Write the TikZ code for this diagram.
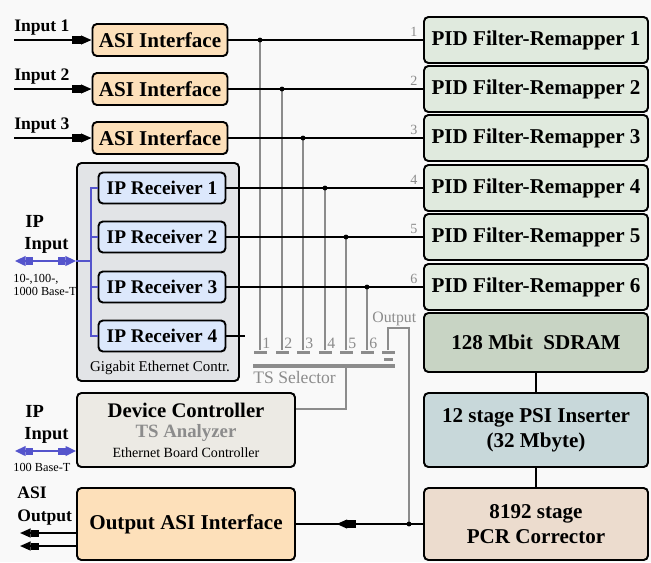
\documentclass[tikz,border=0pt]{standalone}
\usepackage{fontspec}
\setmainfont{Liberation Serif}
\usetikzlibrary{arrows.meta,decorations.markings}

\definecolor{bgfill}{RGB}{249,249,249}
\definecolor{asifill}{RGB}{253,224,186}
\definecolor{pidfill}{RGB}{224,234,222}
\definecolor{ramfill}{RGB}{200,212,196}
\definecolor{psifill}{RGB}{200,216,218}
\definecolor{pcrfill}{RGB}{236,220,206}
\definecolor{devfill}{RGB}{236,234,228}
\definecolor{gigfill}{RGB}{226,228,231}
\definecolor{rcvfill}{RGB}{220,232,252}
\definecolor{ipblue}{RGB}{84,84,204}
\definecolor{selgray}{RGB}{140,140,140}

\def\bigf{\bfseries\fontsize{12}{14.4}\selectfont}
\def\asi#1#2{\node[blk, fill=asifill, font=\bigf, minimum width=2.7cm, minimum height=0.64cm] (asi#1) at (160,#2) {ASI Interface};
  \coordinate (in#1) at (14,#2);
  \draw[bus, plug] (in#1) -- (asi#1.west);
  \node[lbl, anchor=base west] (inlbl#1) at (14,#2-9) {Input #1};}
\def\pid#1#2{\node[blk, fill=pidfill, font=\bigf, minimum width=4.48cm, minimum height=0.92cm] (pid#1) at (536,#2) {PID Filter-Remapper #1};
  \node[linenum, anchor=south east] (ln#1) at ([xshift=-3pt,yshift=2pt]pid#1.west) {#1};}
\def\rcv#1#2{\node[blk, fill=rcvfill, font=\bfseries\fontsize{11}{13}\selectfont, minimum width=2.54cm, minimum height=0.62cm] (rcv#1) at (162,#2) {IP Receiver #1};}
\def\tap#1#2#3{\coordinate (j#1) at (#2,#3);
  \node[tapbar] (t#1) at (#2,352) {};
  \draw[tsline] (j#1) -- (t#1.north);
  \node[tapnum, anchor=base west] (tn#1) at (#2+2,348) {#1};}

\begin{document}
\begin{tikzpicture}[x=0.02cm, y=-0.02cm,
    blk/.style={draw=black, line width=1.1pt, rounded corners=2.5pt, align=center, inner sep=1pt},
    bus/.style={line width=1pt},
    tsline/.style={draw=selgray, line width=1.1pt},
    ipline/.style={draw=ipblue, line width=1.1pt},
    plug/.style={-{Rectangle[length=5pt,width=4pt]Triangle[length=6pt,width=5pt]}},
    ipplug/.style={-{Rectangle[length=4pt,width=4pt]Triangle[length=6pt,width=5.5pt]}},
    lbl/.style={font=\bfseries\fontsize{10}{12}\selectfont, inner sep=0pt},
    small/.style={font=\fontsize{7}{8}\selectfont, inner sep=0pt},
    linenum/.style={font=\fontsize{8}{9}\selectfont, text=selgray, inner sep=0pt},
    tapnum/.style={font=\fontsize{9}{10}\selectfont, text=selgray, inner sep=0pt},
    tapbar/.style={fill=selgray, minimum width=0.26cm, minimum height=0.06cm, inner sep=0pt},
    ]
    \useasboundingbox (0,0) rectangle (651,562);
    \fill[bgfill] (0,0) rectangle (651,562);

    % selector taps
    \tap{1}{260}{40}
    \tap{2}{282}{89}
    \tap{3}{303}{138}
    \tap{4}{325}{188}
    \tap{5}{346}{237}
    \tap{6}{367}{287}
    \node[tapbar] (tout) at (388,352) {};
    \node[tapbar, minimum width=0.18cm] (tout2) at (388,359) {};
    \node[fill=selgray, minimum width=2.84cm, minimum height=0.08cm, inner sep=0pt] (sel) at (324,366) {};
    \node[font=\fontsize{10}{12}\selectfont, text=selgray, inner sep=0pt, anchor=base west] (sellbl) at (253,383) {TS Selector};
    \node[tapnum, anchor=base west] (outlbl) at (372,322) {Output};

    \asi{1}{40}
    \asi{2}{89}
    \asi{3}{138}
    \pid{1}{40}
    \pid{2}{89}
    \pid{3}{138}
    \pid{4}{188}
    \pid{5}{237}
    \pid{6}{287}

    \node[blk, fill=ramfill, font=\bigf, minimum width=4.48cm, minimum height=1.18cm] (ram) at (536,342.5) {128 Mbit\ \ SDRAM};
    \node[blk, fill=psifill, font=\bigf, minimum width=4.48cm, minimum height=1.48cm] (psi) at (536,430) {12 stage PSI Inserter\\(32 Mbyte)};
    \node[blk, fill=pcrfill, font=\bigf, minimum width=4.48cm, minimum height=1.44cm] (pcr) at (536,524) {8192 stage\\PCR Corrector};

    \node[blk, fill=gigfill, minimum width=3.24cm, minimum height=4.36cm] (gig) at (158,272) {};
    \node[font=\fontsize{8.5}{10}\selectfont, inner sep=0pt] (giglbl) at (160,368) {Gigabit Ethernet Contr.};
    \rcv{1}{188}
    \rcv{2}{237}
    \rcv{3}{287}
    \rcv{4}{336}

    \node[blk, fill=devfill, minimum width=4.36cm, minimum height=1.48cm, text depth=0pt] (dev) at (186,430)
        {{\bfseries\fontsize{11.8}{13}\selectfont Device Controller}\\[-0.6pt]
         {\bfseries\fontsize{10.7}{12}\selectfont\color{selgray} TS Analyzer}\\[-0.6pt]
         {\fontsize{8}{9}\selectfont Ethernet Board Controller}};
    \node[blk, fill=asifill, font=\bigf, minimum width=4.36cm, minimum height=1.44cm] (oasi) at (186,524) {Output ASI Interface};

    % data paths
    \draw[bus] (asi1) -- (pid1);
    \draw[bus] (asi2) -- (pid2);
    \draw[bus] (asi3) -- (pid3);
    \draw[bus] (rcv1.east) -- (rcv1.east -| pid4.west);
    \draw[bus] (rcv2.east) -- (rcv2.east -| pid5.west);
    \draw[bus] (rcv3.east) -- (rcv3.east -| pid6.west);
    \coordinate (r4end) at (245,336);
    \draw[bus] (rcv4.east) -- (r4end);
    \foreach \i in {1,...,6} \fill (j\i) circle (1.4pt);

    \draw[bus] (ram) -- (psi);
    \draw[bus] (psi) -- (pcr);
    \coordinate (outj) at (409,524);
    \draw[tsline] (tout.north) |- (409,328) -- (outj);
    \coordinate (selout) at (346,366);
    \draw[tsline] (selout) |- (dev.east |- 0,409);
    \draw[bus, postaction={decorate, decoration={markings, mark=at position 0.68 with {\arrow{Rectangle[length=5pt,width=4.5pt]Triangle[length=6pt,width=5pt]}}}}] (pcr.west) -- (oasi.east);
    \fill (outj) circle (1.4pt);

    % ip side
    \draw[ipline] (rcv1.west) -- (rcv1.west -| 91,0) -- (rcv4.west -| 91,0) -- (rcv4.west);
    \draw[ipline] (rcv2.west) -- (rcv2.west -| 91,0);
    \draw[ipline] (rcv3.west) -- (rcv3.west -| 91,0);
    \coordinate (ipin1) at (15,261);
    \coordinate (ipc1) at (45,261);
    \coordinate (ipmid1) at (76,261);
    \draw[ipline, ipplug] (ipc1) -- (ipin1);
    \draw[ipline, ipplug] (ipc1) -- (ipmid1);
    \draw[ipline] (ipmid1) -- (91,261);
    \node[lbl, font=\bfseries\fontsize{10.5}{12}\selectfont, anchor=base west] (ip1) at (25,227) {IP};
    \node[lbl, font=\bfseries\fontsize{10.5}{12}\selectfont, anchor=base west] (ipi1) at (24,249) {Input};
    \node[small, anchor=base west] (ipr1) at (13,282) {10-,100-,};
    \node[small, anchor=base west] (ipr2) at (13,295) {1000 Base-T};

    \coordinate (ipin2) at (15,451);
    \coordinate (ipc2) at (45,451);
    \draw[ipline, ipplug] (ipc2) -- (ipin2);
    \draw[ipline, ipplug] (ipc2) -- (ipc2 -| dev.west);
    \node[lbl, font=\bfseries\fontsize{10.5}{12}\selectfont, anchor=base west] (ip2) at (25,417) {IP};
    \node[lbl, font=\bfseries\fontsize{10.5}{12}\selectfont, anchor=base west] (ipi2) at (24,439) {Input};
    \node[small, anchor=base west] (ipr3) at (13,471) {100 Base-T};

    % asi output
    \coordinate (aso1) at (20,533);
    \coordinate (aso2) at (20,546);
    \draw[bus, plug] (aso1 -| oasi.west) -- (aso1);
    \draw[bus, plug] (aso2 -| oasi.west) -- (aso2);
    \node[lbl, anchor=base west] (asolbl) at (17,498) {ASI};
    \node[lbl, anchor=base west] (asolbl2) at (17,521) {Output};
\end{tikzpicture}
\end{document}
